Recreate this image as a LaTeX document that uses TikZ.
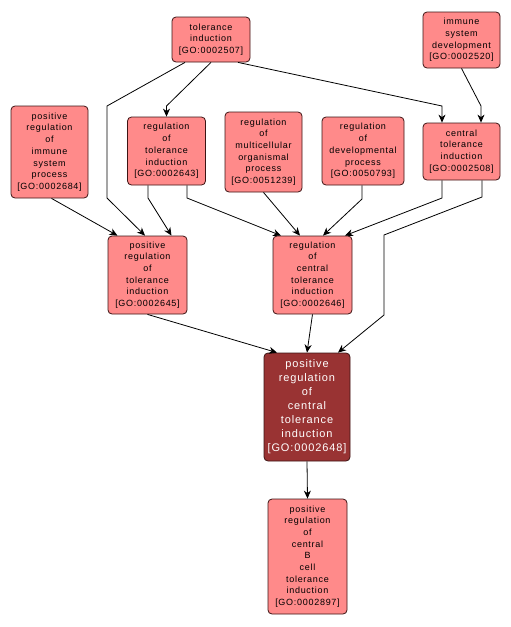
\documentclass[tikz,border=0pt]{standalone}
\usepackage{fontspec}
\setmainfont{Liberation Sans}
\newfontfamily\gofont[LetterSpace=8]{Liberation Sans}
\usetikzlibrary{arrows.meta}
\definecolor{termF}{HTML}{FF8A8A}
\definecolor{termD}{HTML}{993333}
\definecolor{termB}{HTML}{3C1414}

\begin{document}
\begin{tikzpicture}[x=1pt, y=-1pt,
  term/.style={draw=termB, fill=termF, line width=0.8pt, rounded corners=4pt,
    inner sep=0pt, align=center, font=\gofont\fontsize{9}{11.7}\selectfont},
  hit/.style={term, fill=termD, text=white,
    font=\gofont\fontsize{11}{14}\selectfont},
  isa/.style={-{Stealth[length=8pt,width=7pt,inset=2.5pt]}, line width=0.8pt}]
  \path[use as bounding box] (0,0) rectangle (511,627);

  % top row
  \node[term, minimum width=78pt, minimum height=45pt] (n2507) at (211,39.5)
    {tolerance\\induction\\{[GO:0002507]}};
  \node[term, minimum width=77pt, minimum height=56pt] (n2520) at (461.5,40)
    {immune\\system\\development\\{[GO:0002520]}};

  % second row
  \node[term, minimum width=77pt, minimum height=92pt] (n2684) at (49.5,152)
    {positive\\regulation\\of\\immune\\system\\process\\{[GO:0002684]}};
  \node[term, minimum width=78pt, minimum height=68pt] (n2643) at (166.5,151)
    {regulation\\of\\tolerance\\induction\\{[GO:0002643]}};
  \node[term, minimum width=77pt, minimum height=80pt] (n51239) at (263.5,152)
    {regulation\\of\\multicellular\\organismal\\process\\{[GO:0051239]}};
  \node[term, minimum width=82pt, minimum height=68pt] (n50793) at (363,151)
    {regulation\\of\\developmental\\process\\{[GO:0050793]}};
  \node[term, minimum width=77pt, minimum height=57pt] (n2508) at (461.5,151.5)
    {central\\tolerance\\induction\\{[GO:0002508]}};

  % third row
  \node[term, minimum width=79pt, minimum height=78pt] (n2645) at (147.5,275)
    {positive\\regulation\\of\\tolerance\\induction\\{[GO:0002645]}};
  \node[term, minimum width=79pt, minimum height=78pt] (n2646) at (312.5,275)
    {regulation\\of\\central\\tolerance\\induction\\{[GO:0002646]}};

  % the term itself and its child
  \node[hit, minimum width=86pt, minimum height=108pt] (n2648) at (307,407)
    {positive\\regulation\\of\\central\\tolerance\\induction\\{[GO:0002648]}};
  \node[term, minimum width=79pt, minimum height=115pt] (n2897) at (307.5,556.5)
    {positive\\regulation\\of\\central\\B\\cell\\tolerance\\induction\\{[GO:0002897]}};

  % is_a / regulates links
  \draw[isa] (n2507.south) -- (166.5,106) -- (n2643.north);
  \draw[isa] ([xshift=-26pt]n2507.south) -- (107,106) -- (107,198)
    -- ([xshift=-2.5pt]n2645.north);
  \draw[isa] ([xshift=27pt]n2507.south) -- (442,106)
    -- ([xshift=-19.5pt]n2508.north);
  \draw[isa] (n2520.south) -- (481,106) -- ([xshift=19.5pt]n2508.north);
  \draw[isa] ([xshift=2pt]n2684.south) -- ([xshift=-30pt]n2645.north);
  \draw[isa] ([xshift=-18.5pt]n2643.south) -- (148,198)
    -- ([xshift=24pt]n2645.north);
  \draw[isa] ([xshift=20.5pt]n2643.south) -- (187,198)
    -- ([xshift=-31.5pt]n2646.north);
  \draw[isa] (n51239.south) -- ([xshift=-12.5pt]n2646.north);
  \draw[isa] ([xshift=-1pt]n50793.south) -- (362,199)
    -- ([xshift=10.5pt]n2646.north);
  \draw[isa] ([xshift=-19.5pt]n2508.south) -- (442,198)
    -- ([xshift=32.5pt]n2646.north);
  \draw[isa] ([xshift=20.5pt]n2508.south) -- (482,197) -- (384,235)
    -- (384,315) -- ([xshift=31pt]n2648.north);
  \draw[isa] (n2645.south) -- ([xshift=-30pt]n2648.north);
  \draw[isa] (n2646.south) -- (n2648.north);
  \draw[isa] (n2648.south) -- (n2897.north);
\end{tikzpicture}
\end{document}
